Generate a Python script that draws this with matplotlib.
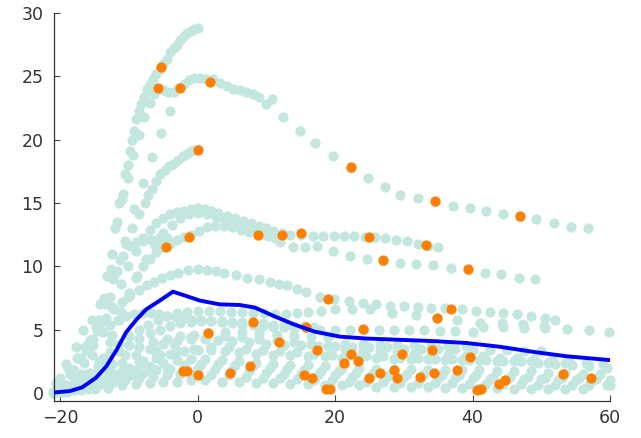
#!/usr/bin/env python3
"""Individual concentration curves (teal), observed samples (orange) and the mean profile (blue)."""
import matplotlib
matplotlib.use("Agg")
import matplotlib.pyplot as plt

TEAL, ORANGE, BLUE = "#c3e6de", "#ff7f00", "#0000ff"

# --- individual subjects (teal dots) ---
a_x = [-20.6, -19.2, -17.7, -16.7, -15.3, -14.2, -13.2, -12.5, -12.0, -11.4, -10.9, -10.5, -10.2, -9.8, -9.5,
       -9.2, -8.9, -8.5, -8.2, -7.8, -7.4, -7.0, -6.5, -6.0, -5.5, -5.0, -4.5, -4.0, -3.5, -3.0, -2.5, -2.0,
       -1.5, -1.0, -0.5, 0.0]
a_y = [0.8, 2.3, 3.6, 5.0, 5.8, 7.0, 9.2, 11.0, 13.0, 15.0, 15.7, 17.3, 18.0, 19.1, 20.0,
       20.7, 21.6, 22.3, 22.8, 23.4, 24.0, 24.4, 24.8, 25.2, 25.6, 26.0, 26.4, 26.9, 27.2, 27.5, 27.9, 28.2,
       28.4, 28.6, 28.7, 28.8]

b_x = [-19.5, -18, -16.3, -14.8, -13.6, -12.6, -11.8, -11.0, -10.2, -9.4, -8.6, -7.8, -7.0, -6.3, -5.8, -5.0,
       -4.3, -3.5, -2.8, -2.0, -1.2, -0.5, 0.3, 1.2, 2.2, 3.2, 4.2, 5.1, 6.1, 7.1, 8.0, 9.0, 10.0, 10.8, 12.4,
       14.9, 17.1, 19.7, 22.3, 24.8, 27.2, 29.5, 32.0, 34.5, 37.1, 39.6, 41.9, 44.4, 46.9, 49.3, 51.8, 54.3, 56.8]
b_y = [0.6, 1.8, 3.4, 5.2, 7.5, 9.8, 13.5, 15.3, 17.0, 18.8, 20.4, 21.8, 22.9, 23.6, 24.0, 23.9,
       23.8, 23.8, 24.1, 24.4, 24.7, 24.9, 24.9, 24.8, 24.8, 24.5, 24.2, 24.0, 23.9, 23.8, 23.6, 23.4, 22.8, 23.2, 21.8,
       20.7, 19.7, 18.7, 17.8, 17.0, 16.3, 15.6, 15.4, 15.1, 14.8, 14.6, 14.4, 14.1, 13.9, 13.7, 13.4, 13.1, 13.0]

s_x = [-13.5, -12.0, -10.6, -9.2, -7.9, -6.6, -5.3, -4.0]
s_y = [7.0, 9.5, 12.0, 14.5, 16.6, 18.6, 20.5, 22.3]

c_x = [-20, -18.5, -17, -15.6, -14.4, -13.3, -12.3, -11.3, -10.4, -9.5, -8.6, -7.7, -7.2, -6.7, -6.1, -5.5,
       -4.8, -4.2, -3.6, -2.9, -2.2, -1.6, -1.0, -0.5, 0.0]
c_y = [0.5, 1.5, 2.8, 4.2, 5.8, 7.4, 9.0, 10.5, 11.8, 13.0, 14.1, 15.0, 15.6, 16.1, 16.7, 17.3,
       17.6, 17.9, 18.1, 18.4, 18.7, 18.9, 19.1, 19.2, 19.3]

d_x = [-19, -17, -15.3, -13.8, -12.4, -11.2, -10.1, -9.0, -8.0, -7.0, -6.0, -5.0, -4.0, -3.0, -2.0, -1.0, 0.0,
       1.0, 2.0, 3.0, 4.2, 5.4, 6.6, 7.8, 9.0, 10.0, 11.0, 12.3, 13.5, 15.0, 16.8, 18.3, 19.8, 21.3, 22.8, 24.3,
       25.8, 27.3, 28.9, 30.5, 32.0, 33.5, 35.0]
d_y = [0.4, 1.5, 3.0, 4.8, 6.8, 8.6, 10.0, 11.2, 12.2, 12.9, 13.4, 13.8, 14.1, 14.3, 14.4, 14.5, 14.6,
       14.5, 14.4, 14.2, 14.0, 13.8, 13.6, 13.4, 13.2, 13.0, 12.8, 12.6, 12.5, 12.5, 12.4, 12.4, 12.4, 12.4, 12.4, 12.3,
       12.3, 12.2, 12.1, 12.0, 11.8, 11.6, 11.5]

e_x = [-18, -16, -14.3, -12.8, -11.4, -10.1, -8.8, -7.5, -6.2, -5.0, -3.8, -2.6, -1.3, 0.0, 1.3, 2.6, 3.9,
       5.2, 6.5, 7.8, 9.0, 10.2, 11.2, 12.0, 13.9, 15.6, 17.3, 19.7, 22.2, 24.6, 27.0, 29.5, 31.8, 34.3, 36.8,
       39.3, 41.8, 44.2, 46.7, 49.1]
e_y = [0.3, 1.2, 2.5, 4.0, 5.8, 7.6, 9.2, 10.6, 11.7, 12.6, 13.3, 13.8, 14.1, 14.2, 14.1, 13.9, 13.7,
       13.5, 13.3, 13.0, 12.7, 12.4, 12.2, 11.9, 11.5, 11.5, 11.6, 11.2, 10.8, 10.6, 10.4, 10.3, 10.2, 10.1, 9.9,
       9.7, 9.5, 9.4, 9.1, 9.0]

g_x = [-17, -15.2, -13.8, -12.5, -11.2, -10.0, -8.9, -7.9, -7.0, -6.0, -5.0, -4.0, -3.0, -2.0, -1.0, 0.2,
       1.3, 2.5, 3.8, 5.0, 6.3, 7.5, 8.8]
g_y = [0.3, 1.3, 2.8, 4.6, 6.4, 7.9, 9.1, 10.0, 10.6, 11.1, 11.5, 11.8, 12.1, 12.3, 12.5, 12.8,
       13.1, 13.2, 13.2, 13.1, 12.9, 12.7, 12.5]

k_x = [-19.5, -18, -16.5, -15.2, -14.0, -12.8, -11.8, -10.9, -9.9, -8.9, -7.9, -6.8, -5.6, -4.4]
k_y = [0.4, 1.2, 2.4, 3.8, 5.6, 7.6, 9.6, 10.8, 11.6, 11.9, 12.0, 12.1, 12.2, 12.2]

f_x = [-20, -18.6, -17.2, -15.9, -14.6, -13.4, -12.2, -11.0, -9.8, -8.6, -7.4, -6.3, -5.2, -4.0, -2.8,
       -1.4, 0.0, 1.3, 2.6, 3.9, 5.6, 7.2, 9.0, 10.5, 11.8, 13.0, 14.5, 15.8, 17.8, 19.9, 22.0, 24.0, 26.0,
       28.0, 30.0, 32.0, 34.0, 36.0, 38.5, 40.5, 42.5, 44.5, 46.5, 48.5, 50.5, 52.0]
f_y = [0.6, 1.6, 2.8, 3.9, 5.0, 5.9, 6.6, 7.2, 7.7, 8.1, 8.5, 8.8, 9.1, 9.3, 9.5,
       9.7, 9.8, 9.7, 9.6, 9.5, 9.3, 9.1, 9.0, 8.8, 8.6, 8.5, 8.2, 8.0, 7.6, 7.4, 7.3, 7.1, 7.0,
       6.9, 6.9, 6.8, 6.75, 6.7, 6.6, 6.5, 6.4, 6.3, 6.2, 6.1, 5.9, 5.8]

h_x = [-19, -17.3, -15.7, -14.2, -12.8, -11.4, -10.0, -8.6, -7.2, -5.8, -4.4, -3.0, -1.5, 0.0, 1.6, 3.2,
       4.8, 6.4, 8.0, 9.6, 11.2, 12.8, 14.4, 16.0, 18.0, 20.0, 22.5, 25.1, 28.3, 31.7, 34.8, 37.7, 41.1, 44.3,
       47.4, 50.4]
h_y = [0.3, 0.9, 1.6, 2.4, 3.2, 3.9, 4.5, 5.0, 5.4, 5.8, 6.1, 6.3, 6.4, 6.5, 6.5, 6.5,
       6.4, 6.4, 6.3, 6.3, 6.2, 6.2, 6.3, 6.4, 6.5, 6.6, 6.6, 6.6, 6.3, 6.15, 5.9, 5.75, 5.55, 5.5,
       5.45, 5.3]

i_x = [-20.5, -19, -17.5, -16, -14.5, -13, -11.5, -10, -8.5, -7, -5.5, -4, -2.5, -1, 0.5, 2, 3.5, 5, 6.5,
       8, 9.5, 11, 12.5, 14, 15.8, 17.8, 20.0, 22.1, 24.2, 26.4, 28.6, 30.8, 33.0, 35.2, 37.5, 40.0]
i_y = [0.2, 0.6, 1.0, 1.5, 2.1, 2.7, 3.3, 3.8, 4.3, 4.7, 5.0, 5.3, 5.5, 5.6, 5.7, 5.7, 5.6, 5.5, 5.4,
       5.4, 5.3, 5.2, 5.2, 5.1, 5.1, 5.0, 5.0, 5.0, 5.0, 5.0, 5.0, 4.95, 4.95, 4.9, 4.9, 4.85]

j_x = [-16, -13.5, -11, -8.5, -6, -3.5, -1, 1.5, 4, 6.5, 9, 11.5, 14, 16.5, 19, 21.5, 24, 26.5, 29, 31.5,
       34, 36.5, 39]
j_y = [0.3, 0.9, 1.7, 2.5, 3.3, 3.9, 4.4, 4.7, 4.8, 4.8, 4.7, 4.6, 4.5, 4.4, 4.4, 3.9, 3.9, 3.8, 3.8, 3.8,
       3.7, 3.7, 3.7]

j2_x = [41.5, 44.5, 47.5, 50.5, 53.7, 56.9, 59.9]
j2_y = [5.2, 5.2, 5.15, 5.1, 5.05, 4.95, 4.85]

l1_x = [-19, -17, -15, -13, -11, -9, -7, -5, -3, -1, 1, 3, 5, 7.5, 10, 12.5, 15, 17.5, 20, 22.5, 25, 27.5,
        30, 32.5, 35, 37.5, 40, 42.5, 45, 47.5, 50]
l1_y = [0.2, 0.6, 1.1, 1.7, 2.4, 3.0, 3.5, 3.9, 4.1, 4.3, 4.3, 4.2, 4.1, 4.0, 3.9, 3.8, 3.8, 3.7, 3.7, 3.6,
        3.6, 3.6, 3.5, 3.5, 3.5, 3.5, 3.4, 3.4, 3.4, 3.3, 3.3]

l2_x = [-20, -18, -16, -14, -12, -10, -8, -6, -4, -2, 0, 2, 4, 6, 8.5, 11, 13.5, 16, 18.5, 21, 23.5, 26,
        28.5, 31, 33.5, 36, 38.5, 41, 43.5, 46, 48.5, 51, 53.5]
l2_y = [0.1, 0.3, 0.6, 1.0, 1.5, 2.0, 2.4, 2.8, 3.1, 3.3, 3.4, 3.4, 3.3, 3.2, 3.1, 3.0, 3.0, 2.9, 2.9, 2.8,
        2.8, 2.8, 2.7, 2.7, 2.7, 2.6, 2.6, 2.6, 2.5, 2.5, 2.5, 2.4, 2.4]

l3_x = [-21, -19, -17, -15, -13, -11, -9, -7, -5, -3, -1, 1, 3.5, 6, 8.5, 11, 13.5, 16, 18.5, 21, 23.5,
        26, 28.5, 31, 33.5, 36, 38.5, 41, 43.5, 46, 48.5, 51, 53.5, 56, 58.5]
l3_y = [0.1, 0.3, 0.5, 0.8, 1.1, 1.5, 1.8, 2.1, 2.4, 2.6, 2.7, 2.7, 2.6, 2.5, 2.4, 2.3, 2.2, 2.2, 2.1, 2.0,
        2.0, 1.9, 1.9, 1.9, 1.8, 1.8, 1.8, 1.8, 1.7, 1.7, 1.7, 1.6, 1.6, 1.5, 1.5]

l4_x = [-20, -18, -16, -14, -12, -10, -8, -6, -4, -2, 0, 2.5, 5, 7.5, 10, 12.5, 15, 17.5, 20, 22.5, 25,
        27.5, 30, 32.5, 35, 37.5, 40, 42.5, 45, 47.5, 50, 52.5, 55, 57.5, 60]
l4_y = [0.3, 0.5, 0.7, 0.9, 1.2, 1.4, 1.6, 1.8, 1.9, 2.0, 2.0, 1.9, 1.8, 1.7, 1.6, 1.5, 1.5, 1.4, 1.4, 1.3,
        1.3, 1.3, 1.3, 1.2, 1.2, 1.2, 1.2, 1.1, 1.1, 1.1, 1.1, 1.0, 1.0, 1.0, 1.0]

l5_x = [-21, -19, -17, -15, -13, -11, -9, -7, -5, -3, -1, 1, 3.5, 6, 8.5, 11, 13.5, 16, 18.5, 21, 23.5,
        26, 28.5, 31, 33.5, 36, 38.5, 41, 43.5, 46, 48.5, 51, 53.5, 56, 59.5]
l5_y = [0.0, 0.1, 0.2, 0.3, 0.4, 0.6, 0.7, 0.8, 0.9, 0.9, 1.0, 1.0, 0.9, 0.9, 0.8, 0.8, 0.7, 0.7, 0.6, 0.6,
        0.6, 0.5, 0.5, 0.5, 0.5, 0.4, 0.4, 0.4, 0.4, 0.3, 0.3, 0.3, 0.3, 0.3, 0.6]

l6_x = [-18, -15.5, -13, -10.5, -8, -5.5, -3, -0.5, 2, 4.5, 7, 9.5, 12, 14.5, 17, 19.5, 22, 24.5, 27, 29.5,
        32, 34.5, 37, 39.5, 42, 44.5, 47, 49.5, 52, 54.5, 57, 59.5]
l6_y = [0.2, 0.6, 1.2, 1.9, 2.5, 3.0, 3.3, 3.5, 3.6, 3.6, 3.5, 3.4, 3.3, 3.2, 3.1, 3.0, 3.0, 2.9, 2.9, 2.8,
        2.8, 2.7, 2.7, 2.6, 2.6, 2.5, 2.5, 2.4, 2.3, 2.2, 2.1, 2.0]

l7_x = [-19.5, -17, -14.5, -12, -9.5, -7, -4.5, -2, 0.5, 3, 5.5, 8, 10.5, 13, 15.5, 18, 20.5, 23, 25.5, 28,
        30.5, 33, 35.5, 38, 40.5, 43, 45.5, 48, 50.5, 53, 55.5, 58]
l7_y = [0.1, 0.3, 0.6, 1.0, 1.4, 1.7, 2.0, 2.2, 2.3, 2.3, 2.2, 2.1, 2.0, 1.9, 1.8, 1.7, 1.7, 1.6, 1.6, 1.5,
        1.5, 1.5, 1.4, 1.4, 1.4, 1.3, 1.3, 1.3, 1.2, 1.2, 1.2, 1.1]

l8_x = [-18.5, -16.5, -14.5, -12.5, -10.5, -8.5, -6.5, -4.5, -2.5, -0.5, 1.5, 4, 6.5, 9, 11.5, 14, 16.5, 19,
        21.5, 24, 26.5, 29, 31.5, 34, 36.5, 39, 41.5, 44, 46.5, 49, 51.5, 54, 56.5, 59]
l8_y = [0.4, 0.9, 1.6, 2.3, 3.0, 3.6, 4.0, 4.3, 4.5, 4.6, 4.6, 4.5, 4.4, 4.3, 4.2, 4.0, 3.9, 3.7,
        3.5, 3.4, 3.3, 3.2, 3.1, 3.0, 3.0, 2.9, 2.9, 2.8, 2.8, 2.7, 2.6, 2.5, 2.4, 2.3]

l9_x = [-20.5, -18.5, -16.5, -14.5, -12.5, -10.5, -8.5, -6.5, -4.5, -2.5, -0.5, 2, 4.5, 7, 9.5, 12, 14.5, 17,
        19.5, 22, 24.5, 27, 29.5, 32, 34.5, 37, 39.5, 42, 44.5, 47, 49.5, 52, 54.5, 57, 60]
l9_y = [0.1, 0.2, 0.4, 0.6, 0.8, 1.0, 1.2, 1.3, 1.4, 1.5, 1.5, 1.4, 1.4, 1.3, 1.2, 1.2, 1.1, 1.0,
        1.0, 0.9, 0.9, 0.9, 0.8, 0.8, 0.8, 0.8, 0.7, 0.7, 0.7, 0.7, 0.6, 0.6, 0.6, 0.6, 0.6]

l10_x = [-20, -18.8, -17.6, -16.4, -15.2, -14, -12.8, -11.6, -10.4, -9.2, -8, -6.8, -5.6, -4.4, -3.2, -2,
         -0.8, 0.5, 2, 3.5, 5, 6.5, 8, 9.5, 11, 12.5, 14, 15.5, 17]
l10_y = [1.2, 2.0, 2.8, 3.6, 4.3, 4.9, 5.4, 5.8, 6.1, 6.2, 6.3, 6.3, 6.2, 6.1, 6.0, 5.9,
         5.8, 5.8, 5.7, 5.7, 5.6, 5.6, 5.5, 5.5, 5.4, 5.4, 5.3, 5.3, 5.2]

SUBJECTS = [(a_x, a_y), (b_x, b_y), (s_x, s_y), (c_x, c_y), (d_x, d_y), (e_x, e_y), (g_x, g_y),
            (k_x, k_y), (f_x, f_y), (h_x, h_y), (i_x, i_y), (j_x, j_y), (j2_x, j2_y), (l1_x, l1_y),
            (l2_x, l2_y), (l3_x, l3_y), (l4_x, l4_y), (l5_x, l5_y), (l6_x, l6_y), (l7_x, l7_y),
            (l8_x, l8_y), (l9_x, l9_y), (l10_x, l10_y)]

# --- highlighted samples (orange) ---
obs_x = [-5.4, -5.8, -2.6, 1.85, 0.0, -4.6, -1.2, 8.8, 12.3, 15.0, 25.0, 26.9, 18.9, 22.3, 34.5, 46.9, 33.3,
         39.3, 36.9, 34.8, 24.0, 8.1, 1.5, 15.8, 11.9, 17.4, 22.3, 21.3, 23.4, 29.8, 7.6, 4.7, 15.5, 16.7, 18.7,
         19.2, 24.9, 26.5, 28.5, 29.0, -2.2, -1.5, 0.0, 34.1, 39.7, 32.4, 34.4, 37.8, 40.6, 41.3, 43.9, 44.7,
         53.2, 57.2]
obs_y = [25.7, 24.1, 24.1, 24.55, 19.2, 11.55, 12.3, 12.45, 12.5, 12.6, 12.3, 10.5, 7.45, 17.85, 15.15, 13.95,
         11.65, 9.8, 6.6, 5.9, 5.05, 5.6, 4.7, 5.2, 4.0, 3.4, 3.1, 2.4, 2.5, 3.05, 2.1, 1.6, 1.4, 1.2, 0.35,
         0.35, 1.2, 1.55, 1.8, 1.2, 1.75, 1.75, 1.4, 3.4, 2.85, 1.3, 1.6, 1.8, 0.2, 0.3, 0.75, 1.0,
         1.5, 1.15]

# --- mean profile (blue line) ---
mean_x = [-20.8, -18.6, -16.8, -14.8, -13.3, -11.8, -10.4, -8.9, -7.5, -5.5, -3.6, -1.6, 0.3, 3.2, 6.1, 8.3,
          11.2, 14.1, 17.0, 20.7, 24.6, 29.4, 34.3, 39.1, 44.0, 48.8, 53.7, 60.0]
mean_y = [0.05, 0.15, 0.45, 1.2, 2.1, 3.4, 4.8, 5.8, 6.6, 7.3, 8.0, 7.65, 7.3, 7.0, 6.95, 6.75,
          6.05, 5.4, 4.85, 4.45, 4.3, 4.2, 4.1, 3.95, 3.65, 3.25, 2.9, 2.6]

fig = plt.figure(figsize=(6.41, 4.38), dpi=100)
ax = fig.add_axes([54 / 641, 37 / 438, 556 / 641, 388 / 438])

for xs, ys in SUBJECTS:
    ax.scatter(xs, ys, s=54, color=TEAL, linewidths=0, clip_on=False, zorder=2)
ax.scatter(obs_x, obs_y, s=54, color=ORANGE, linewidths=0, clip_on=False, zorder=3)
ax.plot(mean_x, mean_y, color=BLUE, lw=2.8, solid_capstyle="round", zorder=4)

ax.set_xlim(-20.9, 60)
ax.set_ylim(-0.63, 30)
ax.set_xticks([-20, 0, 20, 40, 60])
ax.set_yticks([0, 5, 10, 15, 20, 25, 30])
for side in ("top", "right"):
    ax.spines[side].set_visible(False)
for side in ("left", "bottom"):
    ax.spines[side].set_color("#333333")
    ax.spines[side].set_linewidth(0.9)
ax.tick_params(direction="in", length=4, width=0.8, color="#444444",
               labelsize=12.5, labelcolor="#333333")
ax.tick_params(axis="x", pad=6)
ax.tick_params(axis="y", pad=7.5)

fig.savefig("out.png", dpi=100)
